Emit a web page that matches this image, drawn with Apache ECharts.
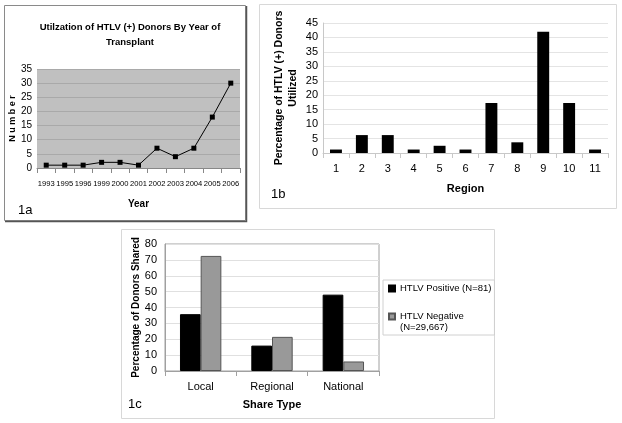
<!DOCTYPE html>
<html><head><meta charset="utf-8">
<script src="https://cdn.jsdelivr.net/npm/echarts@6/dist/echarts.min.js"></script>
<style>html,body{margin:0;padding:0;background:#fff}#c{width:622px;height:423px}</style>
</head><body><div id="c"></div>
<script>
// Panel 1a
const years = ['1993','1995','1996','1999','2000','2001','2002','2003','2004','2005','2006'];
const donorsUsed = [1,1,1,2,2,1,7,4,7,18,30];
// Panel 1b
const regions = ['1','2','3','4','5','6','7','8','9','10','11'];
const pctUtilized = [1.2,6.2,6.2,1.2,2.5,1.2,17.3,3.7,42,17.3,1.2];
// Panel 1c
const shareTypes = ['Local','Regional','National'];
const htlvPos = [35.8,16,48.1];
const htlvNeg = [72.5,21.5,6];
const legendNames = ['HTLV Positive (N=81)','HTLV Negative\n(N=29,667)'];

const SANS = '"Liberation Sans",Arial,sans-serif';

const chart = echarts.init(document.getElementById('c'));
chart.setOption({
  animation:false,
  backgroundColor:'#fff',
  title:[{
    text:'Utilzation of HTLV (+) Donors By Year of\nTransplant',
    left:125, top:15, textAlign:'center',
    textStyle:{fontFamily:SANS,fontSize:9.5,fontWeight:'bold',color:'#000',lineHeight:15}
  }],
  graphic:[
    {type:'rect',shape:{x:4.5,y:5.5,width:241,height:215},style:{fill:'none',stroke:'#8a8a8a',lineWidth:1},z:-1},
    {type:'polyline',shape:{points:[[246.5,6],[246.5,221.5],[5,221.5]]},style:{fill:'none',stroke:'#555',lineWidth:1.5},z:-1},
    {type:'rect',shape:{x:259.5,y:4.5,width:357,height:204},style:{fill:'none',stroke:'#d8d8d8',lineWidth:1},z:-1},
    {type:'rect',shape:{x:121.5,y:229.5,width:373,height:189},style:{fill:'none',stroke:'#d8d8d8',lineWidth:1},z:-1},
    {type:'text',left:18,top:204,style:{text:'1a',fontFamily:SANS,fontSize:13,fill:'#000'}},
    {type:'text',left:271,top:188,style:{text:'1b',fontFamily:SANS,fontSize:13,fill:'#000'}},
    {type:'text',left:128,top:398,style:{text:'1c',fontFamily:SANS,fontSize:13,fill:'#000'}}
  ],
  legend:{
    data:legendNames,
    orient:'vertical', left:383, top:280,
    borderColor:'#d0d0d0', borderWidth:1, padding:[3,3,2,5],
    itemWidth:6, itemHeight:6, itemGap:6, icon:'rect',
    formatter:function(n){return n===legendNames[1] ? '\n'+n : n;},
    textStyle:{fontFamily:SANS,fontSize:9.5,color:'#000',lineHeight:11}
  },
  grid:[
    {left:37,top:69,width:203,height:99,show:true,backgroundColor:'#c0c0c0',borderWidth:0},
    {left:323,top:23,width:285,height:130},
    {left:165,top:244,width:214,height:127,show:true,borderColor:'#a0a0a0',borderWidth:1}
  ],
  xAxis:[
    {gridIndex:0,type:'category',data:years,
     name:'Year',nameLocation:'middle',nameGap:31,
     nameTextStyle:{fontFamily:SANS,fontSize:10,fontWeight:'bold',color:'#000'},
     axisLine:{lineStyle:{color:'#888'}},axisTick:{show:true,interval:0,lineStyle:{color:'#888'}},
     axisLabel:{interval:0,fontFamily:SANS,fontSize:7.6,color:'#000',margin:12}},
    {gridIndex:1,type:'category',data:regions,
     name:'Region',nameLocation:'middle',nameGap:30,
     nameTextStyle:{fontFamily:SANS,fontSize:11,fontWeight:'bold',color:'#000'},
     axisLine:{lineStyle:{color:'#c8c8c8'}},axisTick:{show:true,interval:0,lineStyle:{color:'#c8c8c8'}},
     axisLabel:{interval:0,fontFamily:SANS,fontSize:11,color:'#000',margin:10}},
    {gridIndex:2,type:'category',data:shareTypes,
     name:'Share Type',nameLocation:'middle',nameGap:28,
     nameTextStyle:{fontFamily:SANS,fontSize:11,fontWeight:'bold',color:'#000'},
     axisLine:{lineStyle:{color:'#a0a0a0'}},axisTick:{show:true,interval:0,lineStyle:{color:'#a0a0a0'}},
     axisLabel:{interval:0,fontFamily:SANS,fontSize:11,color:'#000',margin:10}}
  ],
  yAxis:[
    {gridIndex:0,type:'value',min:0,max:35,interval:5,
     name:'N u m b e r',nameLocation:'middle',nameGap:17,
     nameTextStyle:{fontFamily:SANS,fontSize:9,fontWeight:'bold',color:'#000'},
     axisLine:{show:false},axisTick:{show:false},
     splitLine:{lineStyle:{color:'#a9a9a9'}},
     axisLabel:{fontFamily:SANS,fontSize:10,color:'#000',margin:5}},
    {gridIndex:1,type:'value',min:0,max:45,interval:5,
     name:'Percentage of HTLV (+) Donors\nUtilized',nameLocation:'middle',nameGap:23,
     nameTextStyle:{fontFamily:SANS,fontSize:10.5,fontWeight:'bold',color:'#000',lineHeight:14},
     axisLine:{show:true,lineStyle:{color:'#c8c8c8'}},axisTick:{show:false},
     splitLine:{lineStyle:{color:'#e4e4e4'}},
     axisLabel:{fontFamily:SANS,fontSize:11,color:'#000',margin:5}},
    {gridIndex:2,type:'value',min:0,max:80,interval:10,
     name:'Percentage of Donors Shared',nameLocation:'middle',nameGap:24,
     nameTextStyle:{fontFamily:SANS,fontSize:10,fontWeight:'bold',color:'#000'},
     axisLine:{show:true,lineStyle:{color:'#a0a0a0'}},axisTick:{show:false},
     splitLine:{lineStyle:{color:'#e0e0e0'}},
     axisLabel:{fontFamily:SANS,fontSize:11,color:'#000',margin:8}}
  ],
  series:[
    {type:'line',xAxisIndex:0,yAxisIndex:0,data:donorsUsed,
     symbol:'rect',symbolSize:5,itemStyle:{color:'#000'},lineStyle:{color:'#000',width:1}},
    {type:'bar',xAxisIndex:1,yAxisIndex:1,data:pctUtilized,barWidth:'46%',
     itemStyle:{color:'#000'}},
    {type:'bar',name:legendNames[0],xAxisIndex:2,yAxisIndex:2,data:htlvPos,
     barGap:'0%',barCategoryGap:'42%',itemStyle:{color:'#000',borderColor:'#000',borderWidth:1}},
    {type:'bar',name:legendNames[1],xAxisIndex:2,yAxisIndex:2,data:htlvNeg,
     barGap:'0%',barCategoryGap:'42%',itemStyle:{color:'#999',borderColor:'#555',borderWidth:1}}
  ]
});
</script></body></html>
